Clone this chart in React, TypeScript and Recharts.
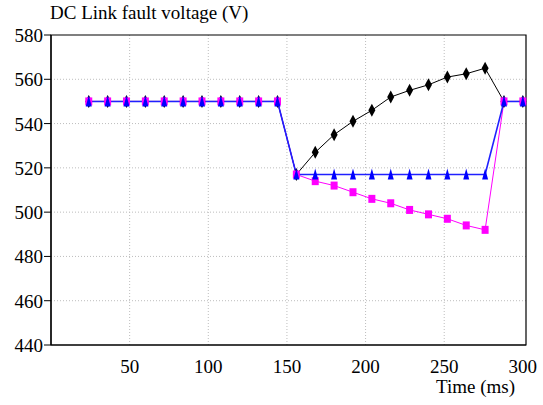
import { LineChart, Line, XAxis, YAxis, CartesianGrid, ReferenceArea } from 'recharts';

const times = [24, 36, 48, 60, 72, 84, 96, 108, 120, 132, 144, 156, 168, 180, 192, 204, 216, 228, 240, 252, 264, 276, 288, 300];
const blackSeries = [550, 550, 550, 550, 550, 550, 550, 550, 550, 550, 550, 517, 527, 535, 541, 546, 552, 555, 557.5, 561, 562.5, 565, 550, 550];
const magentaSeries = [550, 550, 550, 550, 550, 550, 550, 550, 550, 550, 550, 517, 514, 512, 509, 506, 504, 501, 499, 497, 494, 492, 550, 550];
const blueSeries = [550, 550, 550, 550, 550, 550, 550, 550, 550, 550, 550, 517, 517, 517, 517, 517, 517, 517, 517, 517, 517, 517, 550, 550];
const xTicks = [50, 100, 150, 200, 250, 300];
const yTicks = [440, 460, 480, 500, 520, 540, 560, 580];

const data = times.map((t, i) => ({
  t,
  black: blackSeries[i],
  magenta: magentaSeries[i],
  blue: blueSeries[i],
}));

const font = '"Liberation Serif", "Times New Roman", Times, "DejaVu Serif", serif';

const Diamond = (props: any) => {
  const { cx, cy } = props;
  if (cx == null || cy == null) return null;
  return <path d={`M${cx},${cy - 6.5} L${cx + 3.5},${cy} L${cx},${cy + 6.5} L${cx - 3.5},${cy} Z`} fill="#000" />;
};

const Square = (props: any) => {
  const { cx, cy } = props;
  if (cx == null || cy == null) return null;
  return <rect x={cx - 3.5} y={cy - 4} width={7} height={8} fill="#ff00ff" />;
};

const Triangle = (props: any) => {
  const { cx, cy } = props;
  if (cx == null || cy == null) return null;
  return <path d={`M${cx},${cy - 6} L${cx + 3},${cy + 5} L${cx - 3},${cy + 5} Z`} fill="#0000ff" />;
};

// tick text rendered by hand so the serif face is applied
const XTick = (props: any) => {
  const { x, y, payload } = props;
  return (
    <text x={x} y={y} dy={14} textAnchor="middle" style={{ fontFamily: font }} fontSize={19} fill="#000">
      {payload.value}
    </text>
  );
};

const YTick = (props: any) => {
  const { x, y, payload } = props;
  return (
    <text x={x} y={y} dy={7} textAnchor="end" style={{ fontFamily: font }} fontSize={19} fill="#000">
      {payload.value}
    </text>
  );
};

export default function App() {
  return (
    <div style={{ position: 'absolute', left: 0, top: 0, width: 543, height: 405, background: '#fff', fontFamily: font }}>
      <div style={{ position: 'absolute', left: 50, top: 3, fontSize: 19, lineHeight: '19px', color: '#000', whiteSpace: 'nowrap' }}>
        DC Link fault voltage (V)
      </div>
      <div style={{ position: 'absolute', left: 436, top: 377, fontSize: 19, lineHeight: '19px', color: '#000', whiteSpace: 'nowrap' }}>
        Time (ms)
      </div>
      <LineChart width={543} height={405} data={data} margin={{ top: 35, right: 17, left: 0, bottom: 0 }}>
        <CartesianGrid
          stroke="#bdbdbd"
          strokeDasharray="1 2"
          verticalValues={[50, 100, 150, 200, 250]}
          horizontalValues={[460, 480, 500, 520, 540, 560]}
        />
        <XAxis
          dataKey="t"
          type="number"
          domain={[0, 302]}
          ticks={xTicks}
          height={60}
          tickLine={false}
          tickSize={0}
          tickMargin={14}
          axisLine={{ stroke: '#000', strokeWidth: 1.2 }}
          tick={<XTick />}
        />
        <YAxis
          type="number"
          domain={[440, 580]}
          ticks={yTicks}
          width={51}
          tickSize={7}
          tickMargin={1}
          tickLine={{ stroke: '#000' }}
          axisLine={{ stroke: '#000', strokeWidth: 1.2 }}
          tick={<YTick />}
        />
        <ReferenceArea x1={0} x2={302} y1={440} y2={580} fill="none" stroke="#000" strokeWidth={1.2} />
        <Line dataKey="black" stroke="#000" strokeWidth={1} dot={<Diamond />} activeDot={false} isAnimationActive={false} />
        <Line dataKey="magenta" stroke="#ff00ff" strokeWidth={1} dot={<Square />} activeDot={false} isAnimationActive={false} />
        <Line dataKey="blue" stroke="#2020ff" strokeWidth={1.6} dot={<Triangle />} activeDot={false} isAnimationActive={false} />
      </LineChart>
    </div>
  );
}
